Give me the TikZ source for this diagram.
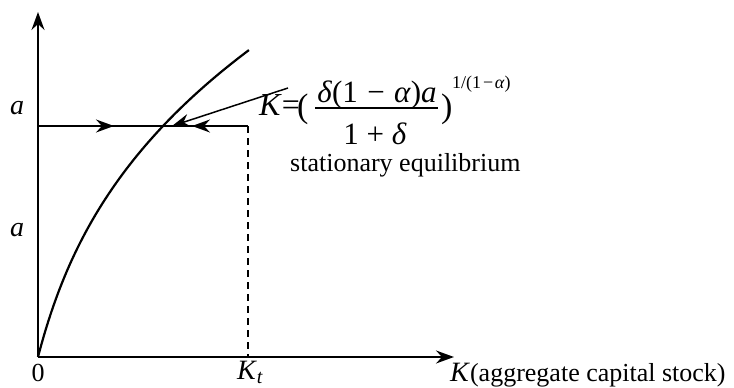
\documentclass[tikz,border=0pt]{standalone}
\usepackage{fontspec}
\setmainfont{Liberation Serif}
\usetikzlibrary{arrows.meta}
\newcommand\ti[1]{\textit{#1}}
\begin{document}
\begin{tikzpicture}[x=1pt,y=-1pt,
  axisline/.style={line width=1.8pt},
  tip/.style={-{Stealth[length=18pt,width=13pt,inset=6pt]}},
  lbl/.style={inner sep=0pt,font=\fontsize{28}{32}\selectfont},
  txt/.style={inner sep=0pt,font=\fontsize{26}{30}\selectfont},
  fml/.style={inner sep=0pt,font=\fontsize{31}{36}\selectfont},
  supf/.style={inner sep=0pt,font=\fontsize{18}{21}\selectfont}]
\useasboundingbox (0,0) rectangle (734,388);
% key points
\coordinate (O) at (38,357);
\coordinate (Ytop) at (38,12);
\coordinate (Xend) at (454,357);
\coordinate (H) at (38,126);
\coordinate (P) at (248,126);
\coordinate (Pfoot) at (248,357);
\coordinate (M1) at (114,126);
\coordinate (M2) at (192,126);
\coordinate (Dstart) at (288,88);
\coordinate (Dend) at (172,126);
% axes
\draw[axisline,tip] (O) -- (Ytop);
\draw[axisline,tip] (O) -- (Xend);
% horizontal line with arrows
\draw[axisline] (H) -- (P);
\draw[axisline,tip] (H) -- (M1);
\draw[axisline,tip] (P) -- (M2);
% dashed
\draw[line width=1.5pt,dash pattern=on 7pt off 5pt] (P) -- (Pfoot);
% curve
\draw[line width=2.2pt] plot[domain=0:3.07,samples=80,smooth]
  ({38+26.11*\x+6.77*\x*\x+2.318*\x*\x*\x},{357-100*\x});
% diagonal arrow
\draw[line width=1.5pt,tip] (Dstart) -- (Dend);
% labels
\node[txt,anchor=base] (zero) at (38,381) {0};
\node[lbl,anchor=base] (kt) at (250,379) {\ti{K}\raisebox{-4pt}{\fontsize{20}{24}\selectfont\ti{t}}};
\node[lbl] (a1) at (17,108) {\ti{a}};
\node[lbl] (a2) at (17,230) {\ti{a}};
\node[txt,anchor=base west] (xlab) at (450,381) {\fontsize{28}{32}\selectfont\ti{K}\fontsize{26}{30}\selectfont(aggregate capital stock)};
\node[txt,anchor=base west] (stat) at (290,171) {stationary equilibrium};
% formula
\node[inner sep=0pt,anchor=base west,font=\fontsize{32}{36}\selectfont] (keq) at (259,115) {\ti{K}=};
\node[inner sep=0pt,anchor=base west,font=\fontsize{34}{38}\selectfont] (lpar) at (297,117) {(};
\node[fml,anchor=base] (num) at (377,102) {\ti{δ}(1\hspace{0.3em}−\hspace{0.3em}\ti{α})\ti{a}};
\node[fml,anchor=base] (den) at (375,144) {1\hspace{0.25em}+\hspace{0.25em}\ti{δ}};
\coordinate (barL) at (315,108);
\coordinate (barR) at (438,108);
\draw[line width=1.3pt] (barL) -- (barR);
\node[inner sep=0pt,anchor=base west,font=\fontsize{34}{38}\selectfont] (rpar) at (441,117) {)};
\node[supf,anchor=base west] (expo) at (452,88) {1/(1\hspace{0.1em}−\hspace{0.1em}\ti{α})};
\end{tikzpicture}
\end{document}
